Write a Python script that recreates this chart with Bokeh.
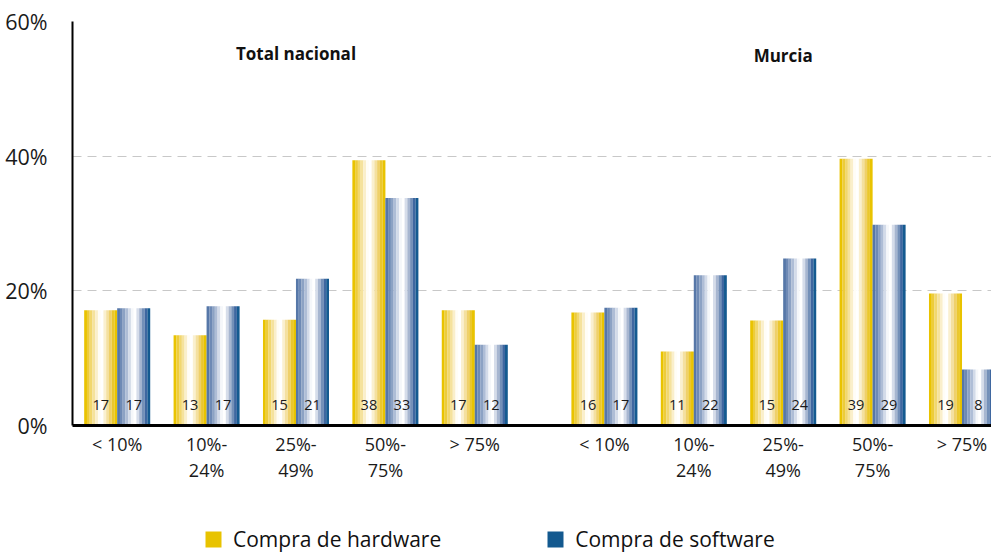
from bokeh.plotting import figure
from bokeh.layouts import column
from bokeh.models import (ColumnDataSource, FixedTicker, Legend, LegendItem,
                          PrintfTickFormatter, Range1d)
from bokeh.transform import dodge
from bokeh.core.properties import value
from bokeh.embed import file_html
from bokeh.resources import INLINE

# ---------------- data ----------------
groups = ["Total nacional", "Murcia"]
categories = ["< 10%", "10%-\n24%", "25%-\n49%", "50%-\n75%", "> 75%"]
hardware = [17.1, 13.4, 15.7, 39.4, 17.1, 16.8, 11.0, 15.6, 39.6, 19.6]
software = [17.4, 17.7, 21.8, 33.8, 12.0, 17.5, 22.3, 24.8, 29.8, 8.3]
hardware_labels = ["17", "13", "15", "38", "17", "16", "11", "15", "39", "19"]
software_labels = ["17", "17", "21", "33", "12", "17", "22", "24", "29", "8"]
series_names = ["Compra de hardware", "Compra de software"]
series_colors = ["#E8C300", "#13598F"]
y_ticks = [0, 20, 40, 60]

FONT = "Open Sans"
GAP = 1.45
n = len(categories)
xpos = [i + g * (n - 1 + GAP) for g in range(len(groups)) for i in range(n)]

src = ColumnDataSource(dict(x=xpos, hw=hardware, sw=software,
                            hwl=hardware_labels, swl=software_labels))

p = figure(width=991, height=512, output_backend="svg", toolbar_location=None,
           x_range=Range1d(-0.5, 9.78), y_range=Range1d(0, 60),
           min_border_left=72, min_border_right=0, min_border_top=21,
           min_border_bottom=87)
p.outline_line_color = None
p.background_fill_color = "white"
p.border_fill_color = "white"

BW = 0.369
hw_colors = ["#E9C300", "#EDCC3A", "#F1D76E", "#F5E29C", "#FAEFCB", "#FFFDF6",
             "#FFFFFF", "#FAF0D0", "#F4E0A0", "#EFD06A", "#EBC72E", "#E9C300"]
sw_colors = ["#5677A8", "#6E8AB5", "#8CA2C4", "#AEBDD6", "#D3DBE9", "#F5F7FA",
             "#FFFFFF", "#D6DDEA", "#A7B6D0", "#7490B8", "#3F67A0", "#145A90"]
ns = len(hw_colors)
sw_w = BW / ns
for col, colors, side in (("hw", hw_colors, -1), ("sw", sw_colors, 1)):
    for k, c in enumerate(colors):
        off = side * BW / 2 - BW / 2 + (k + 0.5) * sw_w
        p.vbar(x=dodge("x", off, range=p.x_range), top=col, bottom=0,
               width=sw_w * 1.02, source=src, fill_color=c, line_color=None)

# value labels
for col, side in (("hwl", -1), ("swl", 1)):
    p.text(x=dodge("x", side * BW / 2, range=p.x_range), y=3.1, text=col,
           source=src, text_align="center", text_baseline="middle",
           text_font=value(FONT), text_font_size="14.5px", text_color="#1a1a1a")

# group titles
gx = [sum(xpos[g * n:(g + 1) * n]) / n for g in range(len(groups))]
p.text(x=gx, y=[55.2, 54.9], text=groups, text_align="center",
       text_baseline="middle", text_font=value(FONT), text_font_size="17px",
       text_font_style="bold", text_color="#111111")

# axes
p.xaxis.ticker = FixedTicker(ticks=xpos)
p.xaxis.major_label_overrides = {x: categories[i % n] for i, x in enumerate(xpos)}
p.xaxis.axis_line_width = 3
p.xaxis.axis_line_color = "black"
p.xaxis.major_tick_line_color = None
p.xaxis.minor_tick_line_color = None
p.xaxis.major_label_text_font = FONT
p.xaxis.major_label_text_font_size = "18px"
p.xaxis.major_label_text_color = "#1a1a1a"
p.xaxis.major_label_standoff = 0
p.xaxis.major_label_text_line_height = 1.1

p.yaxis.ticker = FixedTicker(ticks=y_ticks)
p.yaxis.formatter = PrintfTickFormatter(format="%d%%")
p.yaxis.axis_line_width = 2
p.yaxis.axis_line_color = "black"
p.yaxis.major_tick_line_color = None
p.yaxis.minor_tick_line_color = None
p.yaxis.major_label_text_font = FONT
p.yaxis.major_label_text_font_size = "21.5px"
p.yaxis.major_label_text_color = "#1a1a1a"
p.yaxis.major_label_standoff = 19

p.xgrid.grid_line_color = None
p.ygrid.grid_line_color = "#C8C8C8"
p.ygrid.grid_line_dash = "9 6"
p.ygrid.grid_line_width = 1

# ---------------- legend strip ----------------
lg = figure(width=991, height=41, output_backend="svg", toolbar_location=None,
            x_axis_type=None, y_axis_type=None, min_border=0,
            x_range=Range1d(0, 1), y_range=Range1d(0, 1))
lg.outline_line_color = None
lg.grid.grid_line_color = None
rs = [lg.vbar(x=[0], top=[0], width=0.1, fill_color=c, line_color=None, visible=False)
      for c in series_colors]
legend = Legend(items=[LegendItem(label=nm, renderers=[r]) for nm, r in zip(series_names, rs)],
                orientation="horizontal", location=(131, 0),
                glyph_width=20, glyph_height=20, label_standoff=10, spacing=104,
                padding=0, margin=0, border_line_color=None,
                background_fill_alpha=0, label_text_font=FONT,
                label_text_font_size="21px", label_text_color="#111111",
                label_height=20)
lg.add_layout(legend, "center")

open("out.html", "w").write(file_html(column(p, lg, spacing=0), INLINE))
